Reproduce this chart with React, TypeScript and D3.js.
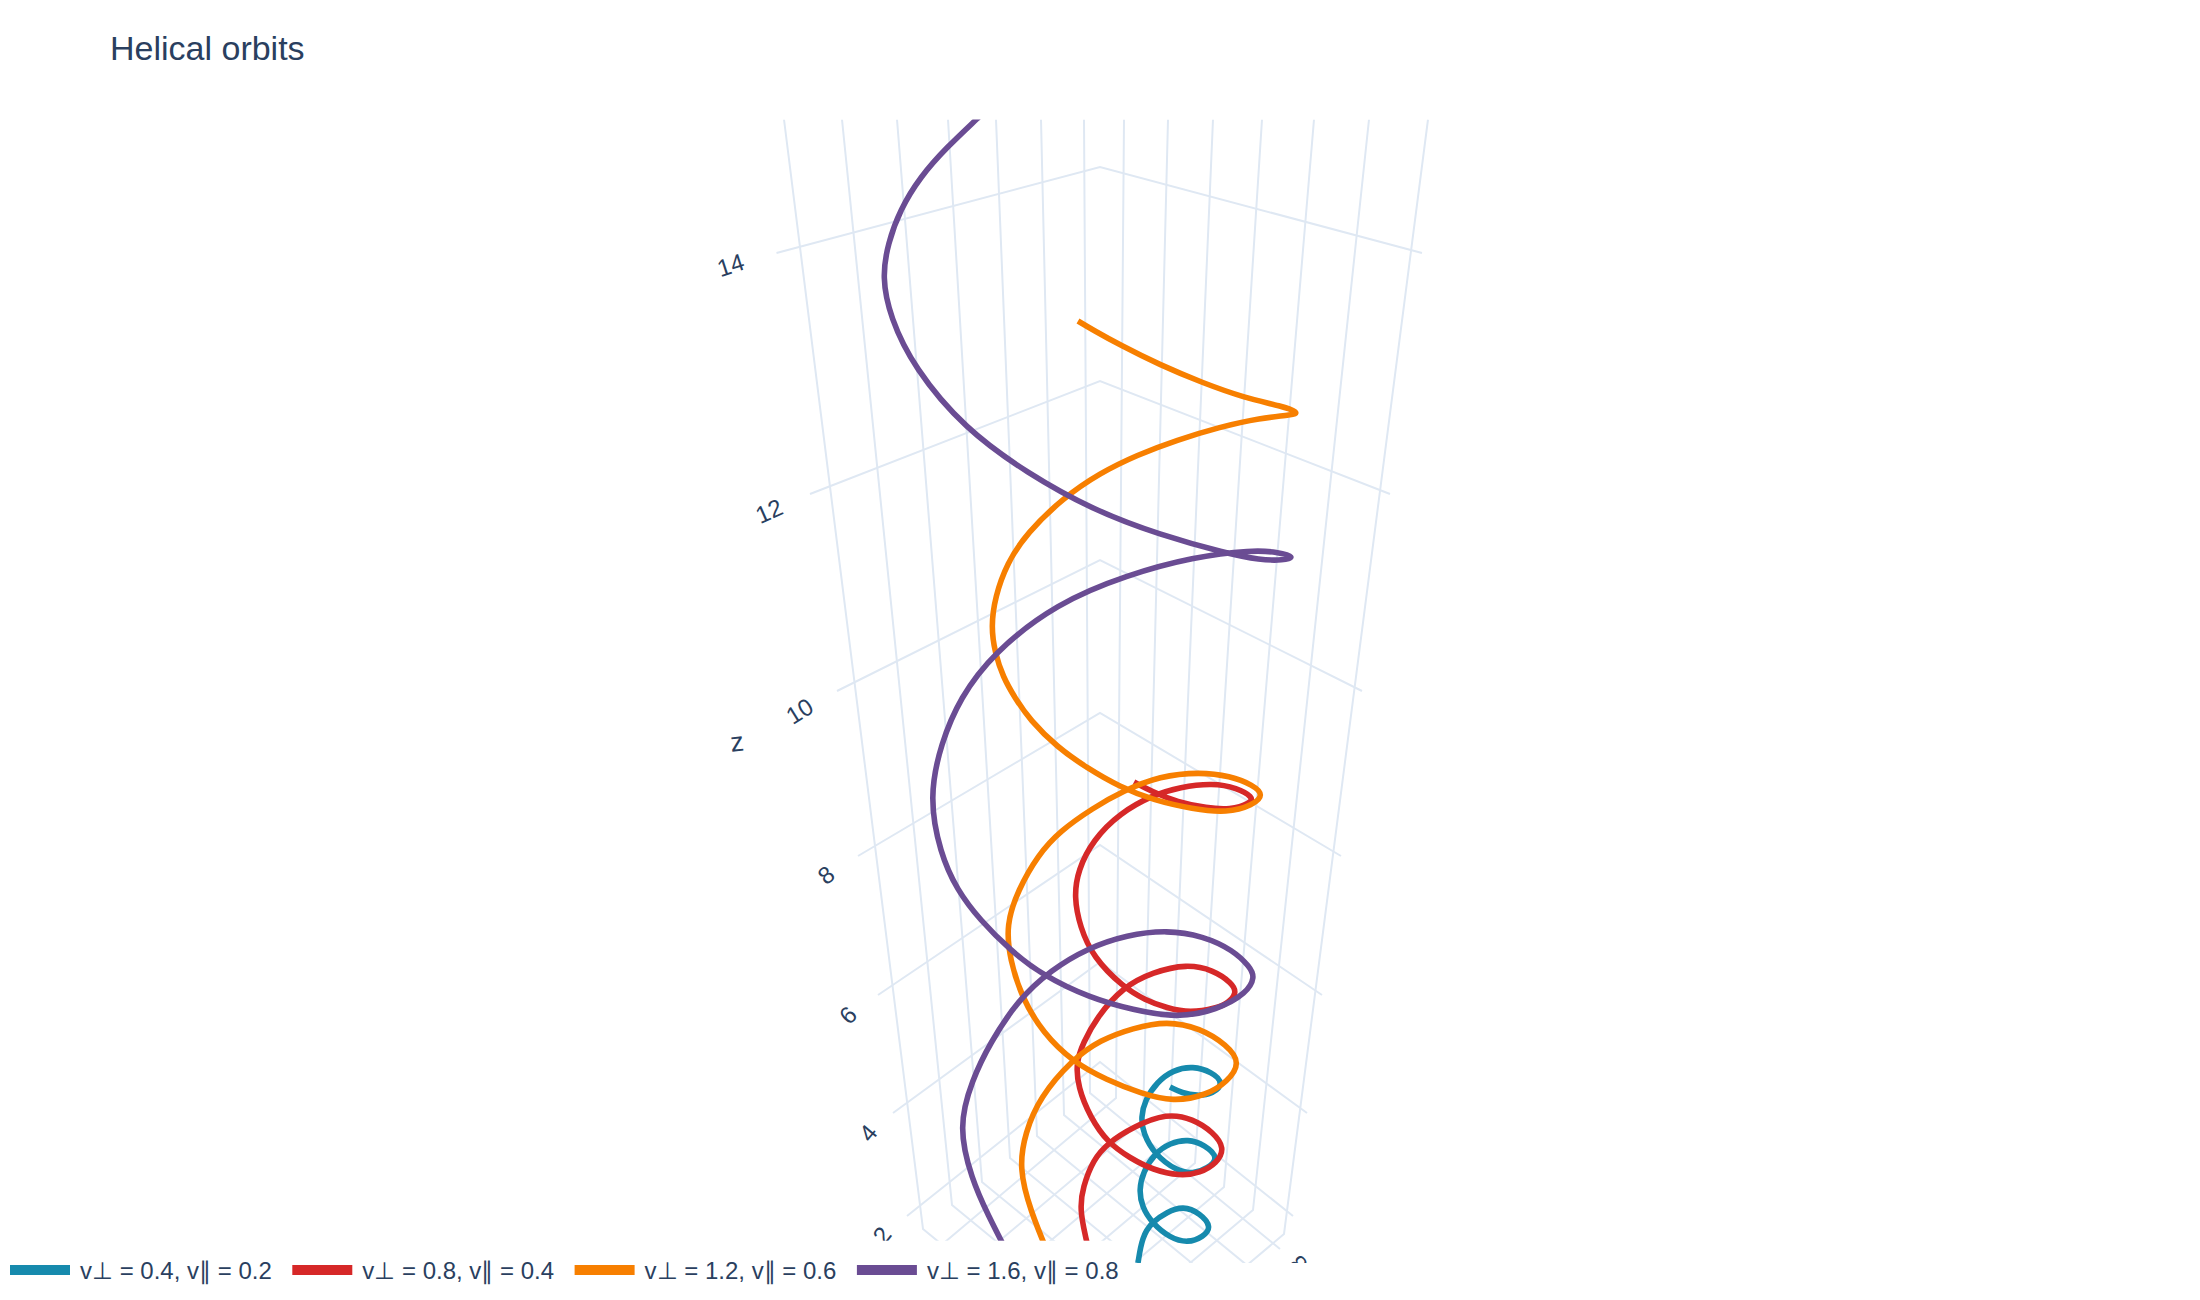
import React from 'react';
import * as d3 from 'd3';

const WIDTH = 2200;
const HEIGHT = 1300;
const TEXT = '#2a3f5f';
const GRID = '#dfe8f3';
const FONT = '"Liberation Sans", Arial, sans-serif';

const seriesNames = ['v⊥ = 0.4, v∥ = 0.2', 'v⊥ = 0.8, v∥ = 0.4', 'v⊥ = 1.2, v∥ = 0.6', 'v⊥ = 1.6, v∥ = 0.8'];
const seriesColors = ['#168aad', '#d62828', '#f77f00', '#6a4c93'];

// Orbits, in the flat plane of the projected scene:
// across = sideways from the back corner of the box, up = height above the legend edge
const tealAcross = [3.8, 4.2, 5.2, 6.7, 8.3, 10.0, 11.2, 10.3, 8.8, 7.0, 5.2, 4.2, 3.9, 4.3, 5.5, 7.0, 8.8, 10.5, 11.9, 10.8, 9.3, 7.7, 5.5, 4.3, 4.1, 4.5, 5.7, 7.3, 9.3, 11.2, 12.4, 11.3, 9.7, 8.2, 7.0];
const tealUp = [-2.3, 0.3, 1.8, 2.8, 3.4, 2.7, 1.3, 0.3, -0.3, 0.2, 1.7, 3.3, 5.0, 6.8, 8.7, 9.7, 10.1, 9.5, 8.2, 7.2, 6.6, 6.9, 8.5, 10.7, 12.3, 14.0, 15.8, 17.0, 17.4, 16.8, 15.7, 14.6, 14.4, 14.7, 15.3];

const redAcross = [-1.0, -2.1, -1.7, -0.7, 0.8, 3.3, 6.7, 9.3, 11.3, 12.5, 11.7, 10.0, 8.0, 5.3, 3.0, 0.8, -1.0, -2.2, -2.4, -1.7, -0.3, 2.3, 5.3, 8.7, 11.3, 13.2, 13.7, 12.8, 11.7, 9.0, 6.7, 4.5, 2.3, -0.7, -2.0, -2.6, -2.2, -0.7, 2.0, 5.3, 8.0, 11.3, 13.7, 15.3, 15.1, 13.0, 10.7, 7.7, 5.3, 3.4];
const redUp = [-1.5, 3.0, 5.3, 8.0, 9.7, 11.3, 12.7, 12.1, 10.8, 9.2, 7.7, 6.7, 6.4, 7.0, 8.2, 9.7, 12.3, 15.3, 17.7, 19.7, 22.3, 25.3, 26.8, 27.6, 27.0, 25.7, 24.7, 23.7, 23.2, 22.7, 23.2, 24.0, 25.3, 28.3, 31.3, 34.3, 37.0, 40.0, 42.7, 44.5, 45.3, 45.7, 45.2, 44.3, 43.7, 43.0, 43.2, 43.8, 44.8, 45.8];

const orangeAcross = [-5.0, -7.0, -8.1, -7.5, -6.0, -2.8, 0, 3.3, 6.7, 10.0, 12.7, 14.1, 12.7, 10.7, 7.3, 4.0, 0.7, -2.7, -5.7, -7.8, -9.0, -9.4, -8.2, -6.2, -4.0, -0.7, 2.3, 6.0, 10.0, 13.0, 15.3, 16.4, 15.3, 12.7, 9.3, 5.3, 2.0, -1.3, -4.3, -7.0, -8.5, -9.7, -10.5, -10.9, -10.5, -9.3, -7.3, -3.7, 0, 3.7, 7.7, 12.0, 16.0, 19.3, 19.9, 18.2, 14.5, 10.3, 6.0, 2.0, -0.7, -2.2];
const orangeUp = [-1.8, 3.0, 7.2, 10.7, 14.3, 18.0, 20.0, 21.2, 21.9, 21.2, 19.5, 17.7, 15.8, 14.5, 13.8, 14.7, 16.0, 17.8, 20.7, 24.2, 28.0, 31.5, 35.0, 38.5, 40.9, 43.2, 44.9, 46.4, 46.8, 46.4, 45.5, 44.5, 43.5, 42.7, 43.1, 44.0, 45.3, 47.2, 49.3, 52.0, 54.2, 56.3, 58.7, 61.3, 64.3, 67.7, 70.7, 74.2, 76.7, 78.5, 80.0, 81.3, 82.2, 82.5, 82.75, 83.4, 84.2, 85.7, 87.5, 89.5, 91.0, 91.9];

const purpleAcross = [-9.0, -11.3, -12.8, -14.2, -12.8, -11.0, -8.2, -4.9, -1.2, 2.7, 6.7, 10.3, 13.3, 15.0, 15.5, 14.7, 11.7, 7.7, 3.3, -1.0, -5.8, -9.0, -12.0, -14.3, -16.0, -17.1, -15.9, -14.0, -10.7, -4.3, 2.7, 9.3, 15.3, 17.7, 19.6, 18.3, 16.0, 12.7, 6.0, -0.7, -7.3, -13.5, -18.6, -21.0, -21.8, -21.2, -20.0, -18.0, -15.3, -12.3, -9.3];
const purpleUp = [-1.8, 2.7, 6.0, 11.3, 16.0, 19.7, 24.0, 27.0, 29.2, 30.5, 31.0, 30.4, 29.0, 27.3, 26.3, 24.7, 23.0, 22.2, 23.0, 24.2, 26.5, 29.0, 32.0, 35.0, 38.7, 44.3, 49.7, 54.2, 58.7, 63.7, 66.5, 68.3, 69.0, 68.8, 68.3, 67.95, 68.0, 68.65, 70.5, 73.0, 76.7, 81.1, 87.2, 92.3, 96.3, 99.7, 103.0, 106.3, 109.3, 112.1, 115.0];

const seriesAcross = [tealAcross, redAcross, orangeAcross, purpleAcross];
const seriesUp = [tealUp, redUp, orangeUp, purpleUp];

// z grid rings: left end, back corner, right end
const zTicks = [2, 4, 6, 8, 10, 12, 14];
const ringLeft = [-19.3, -20.7, -22.2, -24.2, -26.3, -29.0, -32.35];
const ringRight = [19.3, 20.7, 22.2, 24.1, 26.2, 29.0, 32.2];
const ringEndUp = [2.4, 12.7, 24.5, 38.4, 54.9, 74.6, 98.7];
const ringApexUp = [17.8, 27.8, 39.5, 52.7, 68.0, 85.9, 107.3];

// upright wall lines, top edge then foot on the floor
const wallTop = [-31.6, -25.8, -20.3, -15.2, -10.4, -5.9, -1.6, 2.4, 6.8, 11.3, 16.2, 21.4, 26.9, 32.8];
const wallFootAcross = [-17.7, -14.8, -11.8, -9.0, -6.3, -3.6, -1.0, 1.6, 4.3, 6.9, 9.5, 12.4, 15.3, 18.4];
const wallFootUp = [1.1, 3.5, 5.8, 8.2, 10.4, 12.5, 14.7, 14.2, 12.0, 9.9, 7.7, 5.3, 3.0, 0.6];

// floor lines carry on from each foot to the front of the box
const floorEndAcross = [1.3, 4.2, 7.2, 10.0, 12.7, 15.4, 18.0, -17.4, -14.7, -12.1, -9.5, -6.6, -3.7, -0.6];
const floorEndUp = [-14.5, -12.1, -9.8, -7.4, -5.2, -3.1, -0.9, -1.8, -4.0, -6.1, -8.3, -10.7, -13.0, -15.4];

const zLabelAcross = [-21.8, -23.2, -25.2, -27.4, -30.05, -33.1, -36.95];
const zLabelUp = [0.5, 10.7, 22.5, 36.5, 52.9, 72.9, 97.5];
const zLabelAngle = [-52, -50, -44, -38, -32, -24, -18];

const x = d3.scaleLinear().domain([-50, 50]).range([600, 1600]);
const y = d3.scaleLinear().domain([0, 120]).range([1240, 40]);

// read points are a bit noisy, basis evens them out
const orbit = d3.line<[number, number]>()
  .x(d => x(d[0]))
  .y(d => y(d[1]))
  .curve(d3.curveBasis);

const App = () => {
  return (
    <svg width={WIDTH} height={HEIGHT} style={{ position: 'absolute', left: 0, top: 0, background: '#fff' }}>
      <defs>
        <clipPath id="scene">
          <rect x={0} y={119.5} width={WIDTH} height={1263 - 119.5} />
        </clipPath>
      </defs>

      <text x={110} y={60} fontFamily={FONT} fontSize={34} fill={TEXT}>Helical orbits</text>

      <g clipPath="url(#scene)">
        {/* grid */}
        <g fill="none" stroke={GRID} strokeWidth={2}>
          {zTicks.map((t, i) => (
            <path key={t} d={d3.line()([
              [x(ringLeft[i]), y(ringEndUp[i])],
              [x(0), y(ringApexUp[i])],
              [x(ringRight[i]), y(ringEndUp[i])],
            ]) || ''} />
          ))}
          {wallTop.map((top, i) => (
            <path key={i} d={d3.line()([
              [x(top), y(112.05)],
              [x(wallFootAcross[i]), y(wallFootUp[i])],
              [x(floorEndAcross[i]), y(floorEndUp[i])],
            ]) || ''} />
          ))}
        </g>

        {/* z axis */}
        <g fontFamily={FONT} fontSize={24} fill={TEXT} textAnchor="middle" dominantBaseline="central">
          {zTicks.map((t, i) => (
            <text key={t} transform={`translate(${x(zLabelAcross[i])},${y(zLabelUp[i])}) rotate(${zLabelAngle[i]})`}>{t}</text>
          ))}
          <text transform={`translate(${x(-36.3)},${y(49.8)}) rotate(-6)`} fontSize={27}>z</text>
          <text transform={`translate(${x(19.8)},${y(-2.4)}) rotate(-130)`}>8</text>
        </g>

        {/* orbits */}
        <g fill="none" strokeWidth={5.6} strokeLinejoin="round">
          {seriesAcross.map((across, i) => (
            <path
              key={i}
              stroke={seriesColors[i]}
              d={orbit(across.map((a, j) => [a, seriesUp[i][j]] as [number, number])) || ''}
            />
          ))}
        </g>
      </g>

      {/* legend box sits over the scene */}
      <rect x={0} y={1240.7} width={1135} height={40} fill="#fff" />
      <g fontFamily={FONT} fontSize={24} fill={TEXT}>
        {seriesNames.map((name, i) => {
          const left = 10 + i * 282.3;
          return (
            <g key={name}>
              <rect x={left} y={1265} width={60} height={10} fill={seriesColors[i]} />
              <text x={left + 70} y={1279}>{name}</text>
            </g>
          );
        })}
      </g>
    </svg>
  );
};

export default App;
